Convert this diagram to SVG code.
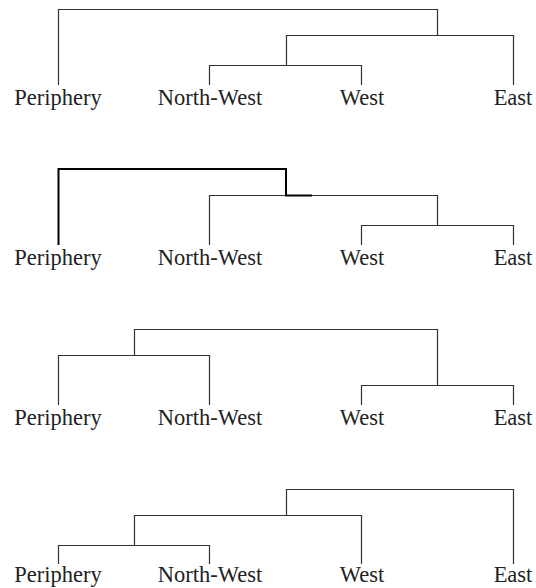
<svg xmlns="http://www.w3.org/2000/svg" width="536" height="588" viewBox="0 0 536 588">
<style>
.ln{fill:none;stroke:#333;stroke-width:1.2}
.hv{fill:none;stroke:#000;stroke-width:2}
.lb{font-family:"Liberation Serif","Times New Roman",serif;font-size:22.5px;fill:#222;text-anchor:middle}
</style>
<rect width="536" height="588" fill="#fff"/>
<g id="tree1">
  <g id="connectors1">
    <path class="ln" d="M58.5,85 V9.5 H437.5 V35.5"/>
    <path class="ln" d="M286.5,65.5 V35.5 H513.5 V85"/>
    <path class="ln" d="M209.5,85 V65.5 H361.5 V85"/>
  </g>
  <g id="t1-periphery"><text class="lb" x="58" y="105">Periphery</text></g>
  <g id="t1-northwest"><text class="lb" x="210" y="105">North-West</text></g>
  <g id="t1-west"><text class="lb" x="362" y="105">West</text></g>
  <g id="t1-east"><text class="lb" x="513" y="105">East</text></g>
</g>
<g id="tree2">
  <g id="connectors2">
    <path class="ln" d="M209.5,245 V195.5 H437.5 V225.5"/>
    <path class="ln" d="M361.5,245 V225.5 H513.5 V245"/>
    <path class="hv" d="M58.5,245 V169 H286 V195.5 H312"/>
  </g>
  <g id="t2-periphery"><text class="lb" x="58" y="265">Periphery</text></g>
  <g id="t2-northwest"><text class="lb" x="210" y="265">North-West</text></g>
  <g id="t2-west"><text class="lb" x="362" y="265">West</text></g>
  <g id="t2-east"><text class="lb" x="513" y="265">East</text></g>
</g>
<g id="tree3">
  <g id="connectors3">
    <path class="ln" d="M58.5,405 V355.5 H209.5 V405"/>
    <path class="ln" d="M134.5,355.5 V329.5 H437.5 V385.5"/>
    <path class="ln" d="M361.5,405 V385.5 H513.5 V405"/>
  </g>
  <g id="t3-periphery"><text class="lb" x="58" y="425">Periphery</text></g>
  <g id="t3-northwest"><text class="lb" x="210" y="425">North-West</text></g>
  <g id="t3-west"><text class="lb" x="362" y="425">West</text></g>
  <g id="t3-east"><text class="lb" x="513" y="425">East</text></g>
</g>
<g id="tree4">
  <g id="connectors4">
    <path class="ln" d="M58.5,564 V545.5 H209.5 V564"/>
    <path class="ln" d="M134.5,545.5 V515.5 H361.5 V564"/>
    <path class="ln" d="M286.5,515.5 V489.5 H513.5 V564"/>
  </g>
  <g id="t4-periphery"><text class="lb" x="58" y="582">Periphery</text></g>
  <g id="t4-northwest"><text class="lb" x="210" y="582">North-West</text></g>
  <g id="t4-west"><text class="lb" x="362" y="582">West</text></g>
  <g id="t4-east"><text class="lb" x="513" y="582">East</text></g>
</g>
</svg>
